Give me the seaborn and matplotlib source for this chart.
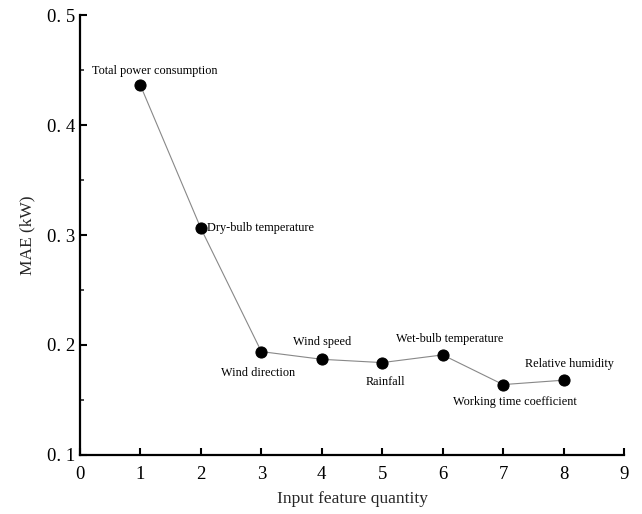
import matplotlib
matplotlib.use("Agg")
import matplotlib.pyplot as plt
import seaborn as sns
import pandas as pd
from matplotlib.ticker import MultipleLocator

feature_qty = [1, 2, 3, 4, 5, 6, 7, 8]
mae = [0.436, 0.306, 0.194, 0.187, 0.184, 0.191, 0.164, 0.168]
feature_names = ["Total power consumption", "Dry-bulb temperature", "Wind direction",
                 "Wind speed", "Rainfall", "Wet-bulb temperature",
                 "Working time coefficient", "Relative humidity"]
xticks = [0, 1, 2, 3, 4, 5, 6, 7, 8, 9]
yticks = [0.1, 0.2, 0.3, 0.4, 0.5]
ytick_labels = ["0. 1", "0. 2", "0. 3", "0. 4", "0. 5"]

# label placement (data units) and alignment
label_pos = [(1.24, 0.449, "center"), (2.1, 0.306, "left"), (2.95, 0.1745, "center"),
             (4.0, 0.2027, "center"), (5.05, 0.1664, "center"), (6.11, 0.2055, "center"),
             (7.19, 0.148, "center"), (8.1, 0.183, "center")]

df = pd.DataFrame({"qty": feature_qty, "mae": mae})

sns.set_style("ticks")
plt.rcParams["font.family"] = ["Liberation Serif", "DejaVu Serif"]

fig = plt.figure(figsize=(6.42, 5.14), dpi=100)
ax = fig.add_axes([0.1246, 0.1148, 0.8474, 0.856])

sns.lineplot(data=df, x="qty", y="mae", ax=ax, color="#888888", linewidth=0.8,
             marker="o", markersize=8, markerfacecolor="black", markeredgecolor="black")

for name, (lx, ly, ha) in zip(feature_names, label_pos):
    ax.text(lx, ly, name, ha=ha, va="center", fontsize=8.8, color="black")

ax.set_xlim(0, 9)
ax.set_ylim(0.1, 0.5)
ax.set_xticks(xticks)
ax.set_yticks(yticks)
ax.set_yticklabels(ytick_labels)
ax.yaxis.set_minor_locator(MultipleLocator(0.05))
ax.tick_params(axis="both", which="major", direction="in", length=5, width=1.5,
               labelsize=13.5, colors="black")
ax.tick_params(axis="y", which="minor", direction="in", length=3, width=1.2)
ax.tick_params(axis="x", pad=8)
sns.despine(ax=ax)
for s in ["left", "bottom"]:
    ax.spines[s].set_linewidth(1.6)
    ax.spines[s].set_color("black")

ax.set_xlabel("Input feature quantity", fontsize=12.5, labelpad=6)
ax.set_ylabel("MAE (kW)", fontsize=12.5, labelpad=8)

fig.savefig("out.png", dpi=100)
